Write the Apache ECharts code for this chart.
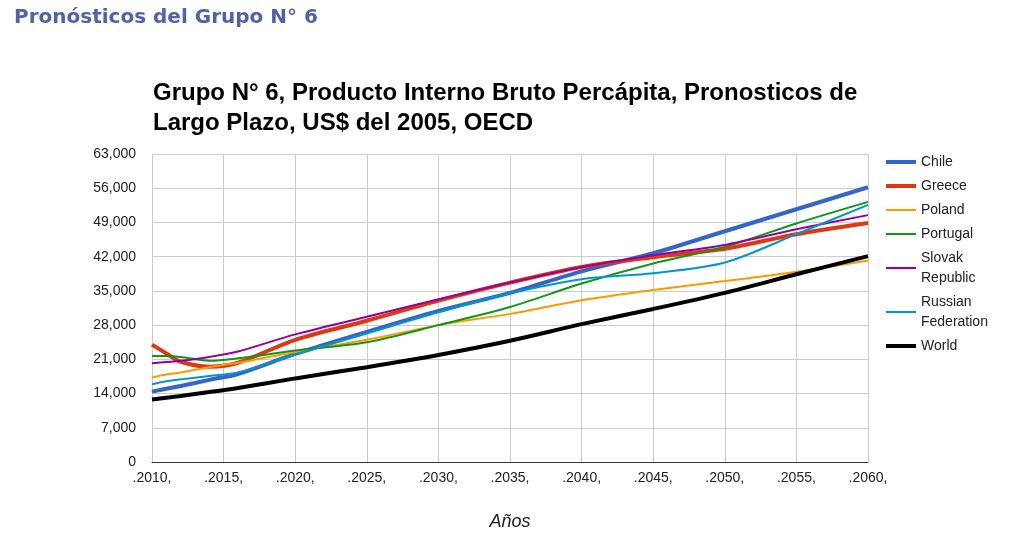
<!DOCTYPE html>
<html>
<head>
<meta charset="utf-8">
<script src="https://cdn.jsdelivr.net/npm/echarts@6/dist/echarts.min.js"></script>
<style>
html,body{margin:0;padding:0;background:#fff;}
#main{width:1030px;height:545px;}
</style>
</head>
<body>
<div id="main"></div>
<script>
const years = [2010, 2011, 2012, 2014, 2016, 2020, 2025, 2030, 2035, 2040, 2045, 2050, 2055, 2060];
const chile    = [14400, 15000, 15550, 16800, 18000, 22100, 26600, 30900, 34600, 39000, 42700, 47200, 51700, 56200];
const greece   = [24000, 22200, 20500, 19500, 20300, 25000, 28900, 33000, 36700, 39900, 41900, 43600, 46600, 48900];
const poland   = [17300, 17900, 18300, 19400, 20300, 22500, 25000, 28000, 30300, 33100, 35200, 37000, 38900, 41200];
const portugal = [21700, 21700, 21500, 20700, 21200, 22800, 24500, 28000, 31700, 36500, 40600, 44000, 48800, 53200];
const slovak   = [20200, 20450, 20700, 21500, 22600, 26100, 29700, 33300, 36700, 39900, 42300, 44400, 47600, 50500];
const russian  = [15900, 16500, 16900, 17600, 18300, 22000, 26300, 30600, 34500, 37400, 38600, 40800, 46600, 52600];
const world    = [12800, 13150, 13500, 14300, 15150, 17100, 19400, 21900, 24800, 28200, 31300, 34600, 38400, 42100];

const seriesNames = ['Chile', 'Greece', 'Poland', 'Portugal', 'Slovak Republic', 'Russian Federation', 'World'];
const seriesValues = [chile, greece, poland, portugal, slovak, russian, world];
const seriesColors = ['#3366cc', '#dc3912', '#ff9900', '#109618', '#990099', '#0099c6', '#000000'];
const seriesWidths = [4, 4, 2, 2, 2, 2, 4];

const thickIcon = 'path://M0,0 H30 V4 H0 Z';
const thinIcon = 'path://M0,0 H30 V2 H0 Z';

const chart = echarts.init(document.getElementById('main'));
chart.setOption({
  animation: false,
  backgroundColor: '#ffffff',
  title: [
    {
      text: 'Pronósticos del Grupo N° 6',
      left: 9, top: 3,
      textStyle: {fontFamily: 'DejaVu Sans', fontWeight: 'bold', fontSize: 20, color: '#4f63ad'}
    },
    {
      text: 'Grupo N° 6, Producto Interno Bruto Percápita, Pronosticos de\nLargo Plazo, US$ del 2005, OECD',
      left: 148, top: 73,
      textStyle: {fontFamily: 'Liberation Sans, Arial', fontWeight: 'bold', fontSize: 24, lineHeight: 30, color: '#000'}
    }
  ],
  legend: {
    orient: 'vertical',
    left: 881, top: 147,
    itemWidth: 30, itemHeight: 4, itemGap: 4,
    symbolKeepAspect: true,
    data: seriesNames.map(function (n, i) {
      return {name: n, icon: seriesWidths[i] > 3 ? thickIcon : thinIcon, itemStyle: {color: seriesColors[i]}};
    }),
    formatter: function (n) { return n.replace(' ', '\n'); },
    textStyle: {fontFamily: 'Liberation Sans, Arial', fontSize: 14, color: '#222', lineHeight: 20}
  },
  grid: {left: 152, right: 162, top: 154, bottom: 83},
  xAxis: {
    type: 'value',
    min: 2010, max: 2060, interval: 5,
    name: 'Años', nameLocation: 'middle', nameGap: 51,
    nameTextStyle: {fontFamily: 'Liberation Sans, Arial', fontStyle: 'italic', fontSize: 18, color: '#222'},
    axisLine: {show: true, lineStyle: {color: '#333', width: 1}},
    axisTick: {show: false},
    axisLabel: {formatter: function (v) { return '.' + v + ','; }, fontFamily: 'Liberation Sans, Arial', fontSize: 14, color: '#222', margin: 9},
    splitLine: {show: true, lineStyle: {color: '#cccccc'}}
  },
  yAxis: {
    type: 'value',
    min: 0, max: 63000, interval: 7000,
    axisLine: {show: false},
    axisTick: {show: false},
    axisLabel: {formatter: function (v) { return v.toLocaleString('en-US'); }, fontFamily: 'Liberation Sans, Arial', fontSize: 14, color: '#222', margin: 16},
    splitLine: {show: true, lineStyle: {color: '#cccccc'}}
  },
  series: seriesNames.map(function (name, i) {
    return {
      name: name,
      type: 'line',
      smooth: 0.3,
      symbol: 'none',
      color: seriesColors[i],
      lineStyle: {width: seriesWidths[i], color: seriesColors[i]},
      data: years.map(function (y, j) { return [y, seriesValues[i][j]]; })
    };
  })
});
</script>
</body>
</html>
